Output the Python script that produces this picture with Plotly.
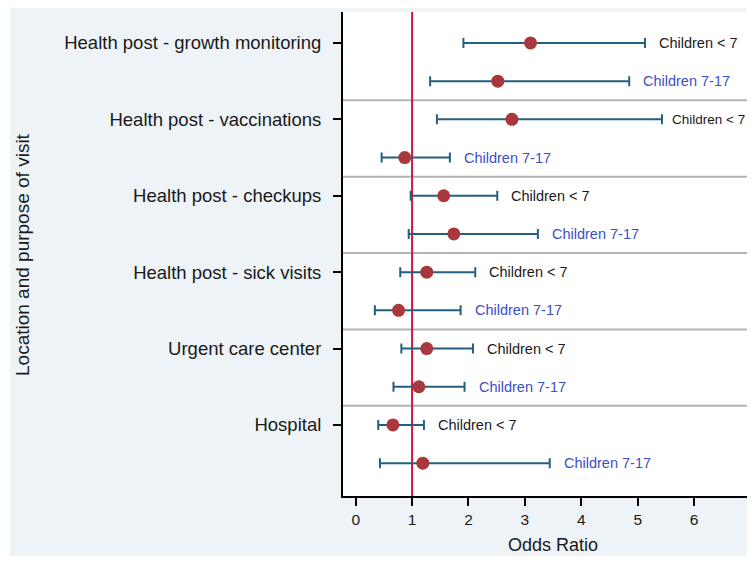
import plotly.graph_objects as go

categories = ["Health post - growth monitoring", "Health post - vaccinations",
              "Health post - checkups", "Health post - sick visits",
              "Urgent care center", "Hospital"]
group_labels = ["Children < 7", "Children 7-17"]

or_under7 = [3.10, 2.77, 1.56, 1.26, 1.26, 0.66]
lo_under7 = [1.91, 1.44, 0.975, 0.79, 0.81, 0.40]
hi_under7 = [5.13, 5.43, 2.51, 2.12, 2.08, 1.21]

or_7_17 = [2.52, 0.87, 1.74, 0.76, 1.12, 1.19]
lo_7_17 = [1.32, 0.46, 0.94, 0.34, 0.67, 0.43]
hi_7_17 = [4.85, 1.67, 3.23, 1.86, 1.93, 3.44]

x_ticks = [0, 1, 2, 3, 4, 5, 6]
ref_line = 1

n = len(categories)
y_u7 = [2 * (n - i) for i in range(n)]
y_717 = [v - 1 for v in y_u7]

FONT = "Liberation Sans, Arial, Helvetica, sans-serif"
MARK = "#a8383d"
ERR = "#245f80"
BLUE = "#3e4fc6"
BG = "#edf3f6"
X_RANGE = [-0.225, 6.938]
PLOT_W = 404  # px width of plot area
LABEL_W = 80  # approx px width of the group labels

fig = go.Figure()
for ors, los, his, ys in [(or_under7, lo_under7, hi_under7, y_u7),
                          (or_7_17, lo_7_17, hi_7_17, y_717)]:
    fig.add_trace(go.Scatter(
        x=ors, y=ys, mode="markers",
        marker=dict(size=13, color=MARK),
        error_x=dict(type="data", symmetric=False,
                     array=[h - o for h, o in zip(his, ors)],
                     arrayminus=[o - l for o, l in zip(ors, los)],
                     color=ERR, thickness=2, width=5),
        showlegend=False, hoverinfo="skip"))

annotations = []
px_per_unit = PLOT_W / (X_RANGE[1] - X_RANGE[0])
for his, ys, lab, col in [(hi_under7, y_u7, group_labels[0], "#1a1a1a"),
                          (hi_7_17, y_717, group_labels[1], BLUE)]:
    for h, y in zip(his, ys):
        end_px = (h - X_RANGE[0]) * px_per_unit + 12 + LABEL_W
        if end_px > PLOT_W:
            # keep the label inside the visible page
            annotations.append(dict(x=1, y=y, xref="paper", yref="y", text=lab,
                                    showarrow=False, xanchor="right", yanchor="middle",
                                    font=dict(size=13.5, color=col, family=FONT)))
        else:
            annotations.append(dict(x=h, y=y, xref="x", yref="y", text=lab,
                                    showarrow=False, xanchor="left", yanchor="middle",
                                    xshift=12, font=dict(size=14.5, color=col, family=FONT)))

annotations.append(dict(x=0.5186, y=-0.101, xref="paper", yref="paper",
                        text="Odds Ratio", showarrow=False, xanchor="center",
                        yanchor="middle", font=dict(size=18, color="#1a1a1a", family=FONT)))
annotations.append(dict(x=-0.792, y=0.498, xref="paper", yref="paper",
                        text="Location and purpose of visit", showarrow=False,
                        textangle=-90, xanchor="center", yanchor="middle",
                        font=dict(size=19, color="#1a1a1a", family=FONT)))

shapes = []
for i in range(n - 1):
    yv = (y_717[i] + y_u7[i + 1]) / 2
    shapes.append(dict(type="line", xref="x domain", yref="y", x0=0, x1=1,
                       y0=yv, y1=yv, line=dict(color="#b3b3b3", width=2), layer="below"))
shapes.append(dict(type="line", xref="x", yref="y domain", x0=ref_line, x1=ref_line,
                   y0=0, y1=1, line=dict(color="#c9183f", width=2), layer="below"))
# thin white page edge on the left
shapes.append(dict(type="rect", xref="paper", yref="paper", x0=-0.84, x1=-0.8243,
                   y0=-0.2, y1=1.05, fillcolor="white", line=dict(width=0)))

fig.update_layout(
    width=739, height=548,
    margin=dict(l=335, r=0, t=4, b=60),
    paper_bgcolor=BG, plot_bgcolor="white",
    font=dict(family=FONT, color="#1a1a1a"),
    annotations=annotations, shapes=shapes,
    xaxis=dict(range=X_RANGE, tickvals=x_ticks, ticks="outside", ticklen=8,
               tickwidth=2, tickcolor="black", showline=True, linecolor="black",
               linewidth=2, showgrid=False, zeroline=False,
               tickfont=dict(size=15.5, family=FONT, color="#1a1a1a")),
    yaxis=dict(range=[0.14, 12.81], tickvals=y_u7, ticktext=categories,
               ticks="outside", ticklen=8, tickwidth=1.5, tickcolor="black",
               showline=True, linecolor="black", linewidth=2, showgrid=False,
               zeroline=False, ticklabelstandoff=8,
               tickfont=dict(size=18.5, family=FONT, color="#1a1a1a")),
)

fig.write_html("out.html")
